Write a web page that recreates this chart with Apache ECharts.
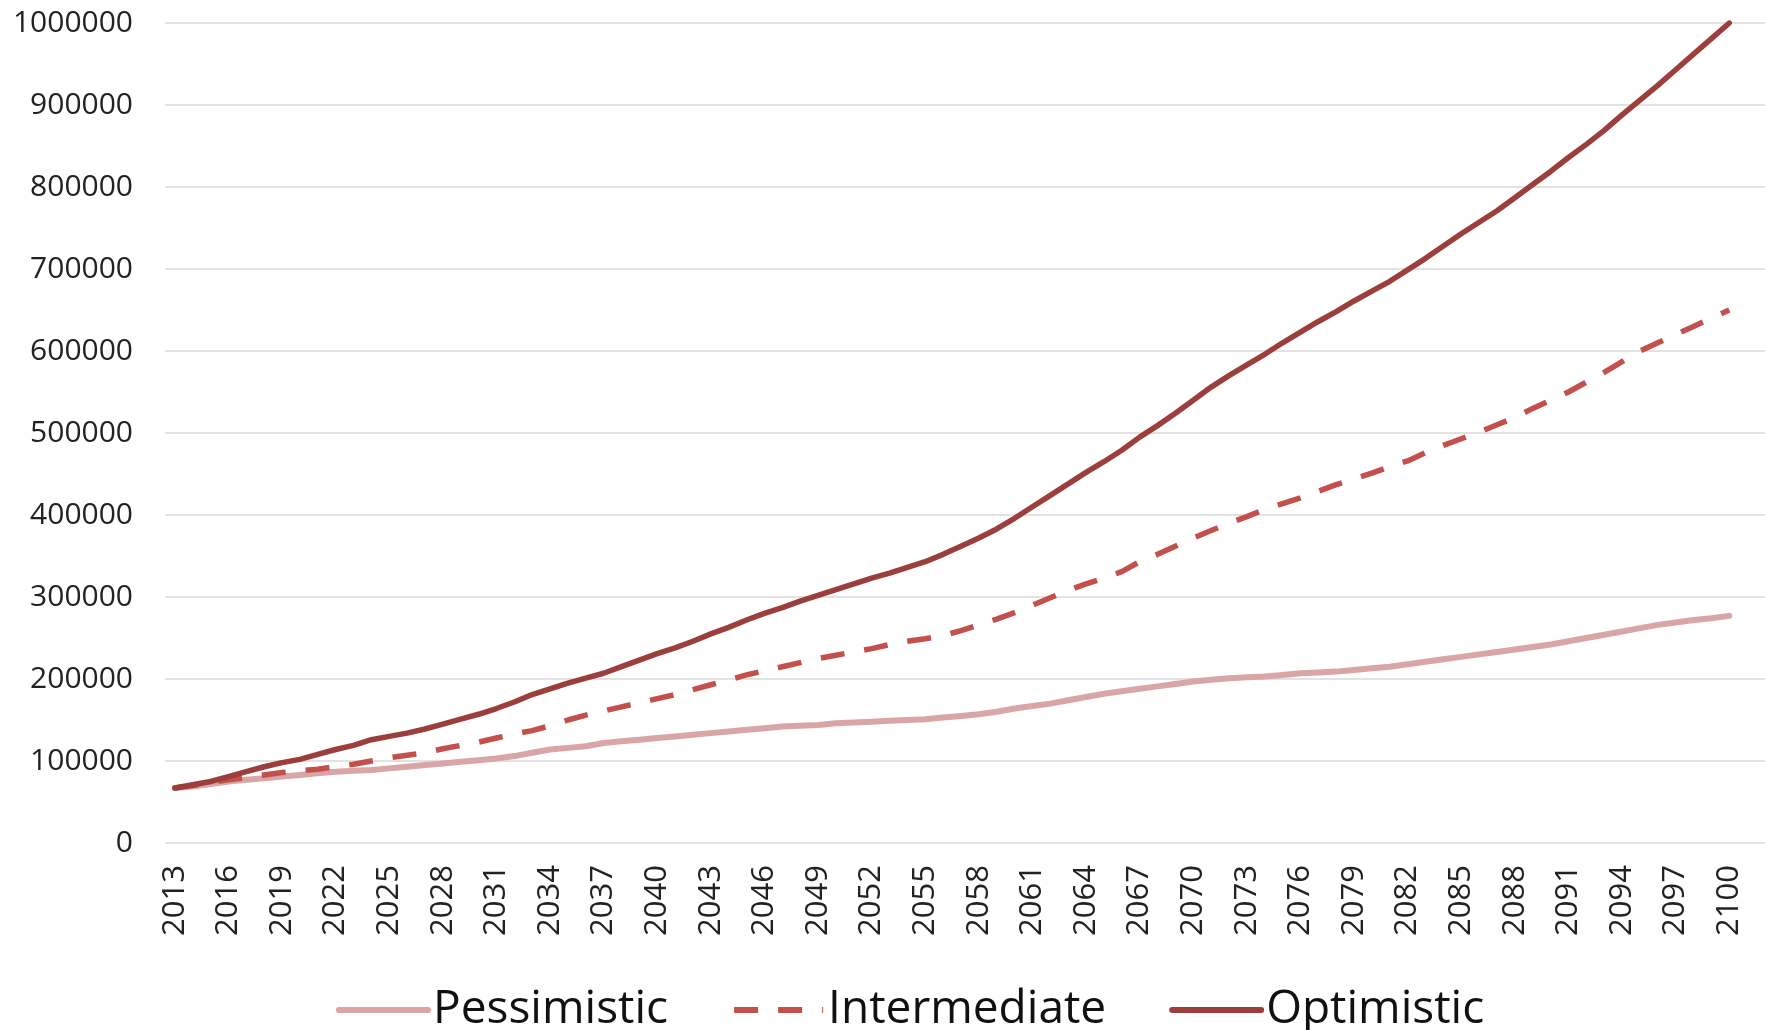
<!DOCTYPE html>
<html>
<head>
<meta charset="utf-8">
<title>Scenarios 2013-2100</title>
<script src="https://cdn.jsdelivr.net/npm/echarts@6/dist/echarts.min.js"></script>
<style>
  html, body { margin: 0; padding: 0; background: #ffffff; }
  #chart { width: 1765px; height: 1030px; }
</style>
</head>
<body>
<div id="chart"></div>
<script>
// Years 2013..2100
const years = [
  2013, 2014, 2015, 2016, 2017, 2018, 2019, 2020, 2021, 2022,
  2023, 2024, 2025, 2026, 2027, 2028, 2029, 2030, 2031, 2032,
  2033, 2034, 2035, 2036, 2037, 2038, 2039, 2040, 2041, 2042,
  2043, 2044, 2045, 2046, 2047, 2048, 2049, 2050, 2051, 2052,
  2053, 2054, 2055, 2056, 2057, 2058, 2059, 2060, 2061, 2062,
  2063, 2064, 2065, 2066, 2067, 2068, 2069, 2070, 2071, 2072,
  2073, 2074, 2075, 2076, 2077, 2078, 2079, 2080, 2081, 2082,
  2083, 2084, 2085, 2086, 2087, 2088, 2089, 2090, 2091, 2092,
  2093, 2094, 2095, 2096, 2097, 2098, 2099, 2100
];

// Year labels shown on the horizontal axis (every third year)
const yearTicks = [
  2013, 2016, 2019, 2022, 2025, 2028, 2031, 2034, 2037, 2040,
  2043, 2046, 2049, 2052, 2055, 2058, 2061, 2064, 2067, 2070,
  2073, 2076, 2079, 2082, 2085, 2088, 2091, 2094, 2097, 2100
];

const pessimistic = [
  67000, 69000, 72000, 75000, 77000, 79000, 81000, 83000, 85000, 87000,
  88000, 89000, 91000, 93000, 95000, 97000, 99000, 101000, 103000, 106000,
  110000, 114000, 116000, 118000, 122000, 124000, 126000, 128000, 130000, 132000,
  134000, 136000, 138000, 140000, 142000, 143000, 144000, 146000, 147000, 148000,
  149000, 150000, 151000, 153000, 155000, 157000, 160000, 164000, 167000, 170000,
  174000, 178000, 182000, 185000, 188000, 191000, 194000, 197000, 199000, 201000,
  202000, 203000, 205000, 207000, 208000, 209000, 211000, 213000, 215000, 218000,
  221000, 224000, 227000, 230000, 233000, 236000, 239000, 242000, 246000, 250000,
  254000, 258000, 262000, 266000, 269000, 272000, 274000, 277000
];

const intermediate = [
  67000, 70000, 74000, 77000, 80000, 83000, 86000, 88000, 90000, 93000,
  96000, 100000, 104000, 107000, 110000, 115000, 119000, 123000, 128000, 133000,
  137000, 143000, 150000, 156000, 161000, 166000, 171000, 176000, 181000, 187000,
  193000, 199000, 205000, 210000, 215000, 220000, 225000, 229000, 233000, 237000,
  242000, 246000, 249000, 253000, 259000, 266000, 273000, 281000, 290000, 299000,
  308000, 316000, 323000, 331000, 343000, 352000, 362000, 372000, 381000, 390000,
  398000, 407000, 414000, 421000, 429000, 437000, 444000, 451000, 459000, 466000,
  476000, 485000, 493000, 501000, 510000, 519000, 530000, 540000, 550000, 562000,
  574000, 587000, 600000, 610000, 620000, 630000, 640000, 650000
];

const optimistic = [
  67000, 71000, 75000, 81000, 87000, 93000, 98000, 102000, 108000, 114000,
  119000, 126000, 130000, 134000, 139000, 145000, 151000, 157000, 164000, 172000,
  181000, 188000, 195000, 201000, 207000, 215000, 223000, 231000, 238000, 246000,
  255000, 263000, 272000, 280000, 287000, 295000, 302000, 309000, 316000, 323000,
  329000, 336000, 343000, 352000, 362000, 372000, 383000, 396000, 410000, 424000,
  438000, 452000, 465000, 479000, 495000, 509000, 524000, 540000, 556000, 570000,
  583000, 596000, 610000, 623000, 636000, 648000, 661000, 673000, 685000, 699000,
  713000, 728000, 743000, 757000, 771000, 787000, 803000, 819000, 836000, 852000,
  869000, 888000, 906000, 924000, 943000, 962000, 981000, 1000000
];

const pairs = (vals) => years.map((y, i) => [y, vals[i]]);

const FONT = '"Open Sans", "Noto Sans", sans-serif';

const chart = echarts.init(document.getElementById('chart'), null, { renderer: 'canvas' });

chart.setOption({
  animation: false,
  backgroundColor: '#ffffff',
  grid: { left: 165, right: 0, top: 23, bottom: 187, containLabel: false },
  xAxis: {
    type: 'value',
    min: 2012.45,
    max: 2102.0,
    axisLine: { show: false },
    axisTick: { show: false },
    splitLine: { show: false },
    axisLabel: {
      customValues: yearTicks,
      rotate: 90,
      margin: 22,
      fontFamily: FONT,
      fontSize: 31,
      color: '#222222',
      formatter: (v) => String(v)
    }
  },
  yAxis: {
    type: 'value',
    min: 0,
    max: 1000000,
    interval: 100000,
    axisLine: { show: false },
    axisTick: { show: false },
    splitLine: { show: true, lineStyle: { color: '#d9d9d9', width: 1.5 } },
    axisLabel: {
      margin: 32,
      fontFamily: FONT,
      fontSize: 30,
      color: '#222222',
      formatter: (v) => String(v)
    }
  },
  legend: {
    left: 331,
    top: 982,
    itemWidth: 89,
    itemHeight: 20,
    itemGap: 63,
    itemStyle: { opacity: 0 },
    lineStyle: { width: 6 },
    textStyle: { fontFamily: FONT, fontSize: 46, color: '#111111', padding: [0, 0, 0, 0] },
    data: ['Pessimistic', 'Intermediate', 'Optimistic']
  },
  series: [
    {
      name: 'Pessimistic',
      type: 'line',
      data: pairs(pessimistic),
      showSymbol: false,
      symbol: 'none',
      lineStyle: { color: '#daa5a6', width: 6, cap: 'round', join: 'round' },
      itemStyle: { color: '#daa5a6' },
      z: 2
    },
    {
      name: 'Intermediate',
      type: 'line',
      data: pairs(intermediate),
      showSymbol: false,
      symbol: 'none',
      lineStyle: { color: '#c3504d', width: 5.5, type: [24, 20], cap: 'butt', join: 'round' },
      itemStyle: { color: '#c3504d' },
      z: 3
    },
    {
      name: 'Optimistic',
      type: 'line',
      data: pairs(optimistic),
      showSymbol: false,
      symbol: 'none',
      lineStyle: { color: '#9c3e3b', width: 5.5, cap: 'round', join: 'round' },
      itemStyle: { color: '#9c3e3b' },
      z: 4
    }
  ]
});
</script>
</body>
</html>
